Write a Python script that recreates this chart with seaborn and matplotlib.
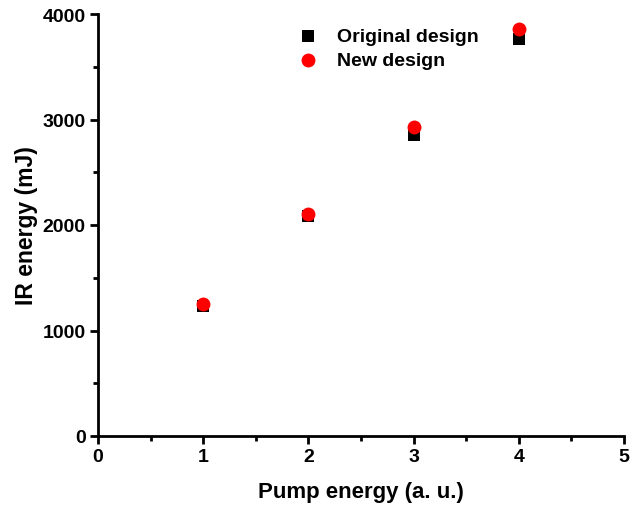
import matplotlib
matplotlib.use("Agg")
import matplotlib.pyplot as plt
import seaborn as sns
import pandas as pd
from matplotlib.ticker import MultipleLocator

pump = [1, 2, 3, 4]
original = [1232, 2085, 2853, 3763]
new = [1248, 2100, 2928, 3862]
series_names = ["Original design", "New design"]

df = pd.DataFrame({
    "pump": pump * 2,
    "ir": original + new,
    "design": [series_names[0]] * 4 + [series_names[1]] * 4,
})

sns.set_style("ticks")
plt.rcParams["font.family"] = ["Liberation Sans", "DejaVu Sans"]
plt.rcParams["font.weight"] = "bold"
plt.rcParams["text.color"] = "black"
plt.rcParams["axes.labelcolor"] = "black"
plt.rcParams["xtick.color"] = "black"
plt.rcParams["ytick.color"] = "black"
plt.rcParams["axes.edgecolor"] = "black"

fig = plt.figure(figsize=(6.3, 5.1), dpi=100)
ax = fig.add_axes([98 / 630, 1 - 437 / 510, (624 - 98) / 630, (437 - 15) / 510])

sub_o = df[df.design == series_names[0]]
sub_n = df[df.design == series_names[1]]
sns.scatterplot(data=sub_o, x="pump", y="ir", marker="s", color="black",
                s=66, linewidth=0, ax=ax, label=series_names[0], zorder=3)
sns.scatterplot(data=sub_n, x="pump", y="ir", marker="o", color="#ff0000",
                s=100, linewidth=0, ax=ax, label=series_names[1], zorder=4)

ax.set_xlim(0, 5)
ax.set_ylim(0, 4000)
ax.xaxis.set_major_locator(MultipleLocator(1))
ax.xaxis.set_minor_locator(MultipleLocator(0.5))
ax.yaxis.set_major_locator(MultipleLocator(1000))
ax.yaxis.set_minor_locator(MultipleLocator(500))

for side in ["top", "right"]:
    ax.spines[side].set_visible(False)
for side in ["left", "bottom"]:
    ax.spines[side].set_linewidth(2)
ax.tick_params(which="major", direction="out", length=6, width=2, labelsize=14, pad=3,
               colors="black")
ax.tick_params(which="minor", direction="out", length=3.5, width=2, colors="black")
for lab in ax.get_xticklabels() + ax.get_yticklabels():
    lab.set_fontweight("bold")

ax.set_xlabel("Pump energy (a. u.)", fontsize=16, fontweight="bold", labelpad=11,
              color="black")
ax.set_ylabel("IR energy (mJ)", fontsize=16.5, fontweight="bold", labelpad=3,
              color="black")

leg = ax.legend(loc="upper left", bbox_to_anchor=(0.348, 0.987), frameon=False,
                prop={"weight": "bold", "size": 14}, handletextpad=0.5,
                labelspacing=0.35, borderaxespad=0)
for t in leg.get_texts():
    t.set_color("black")

fig.savefig("out.png", dpi=100)
